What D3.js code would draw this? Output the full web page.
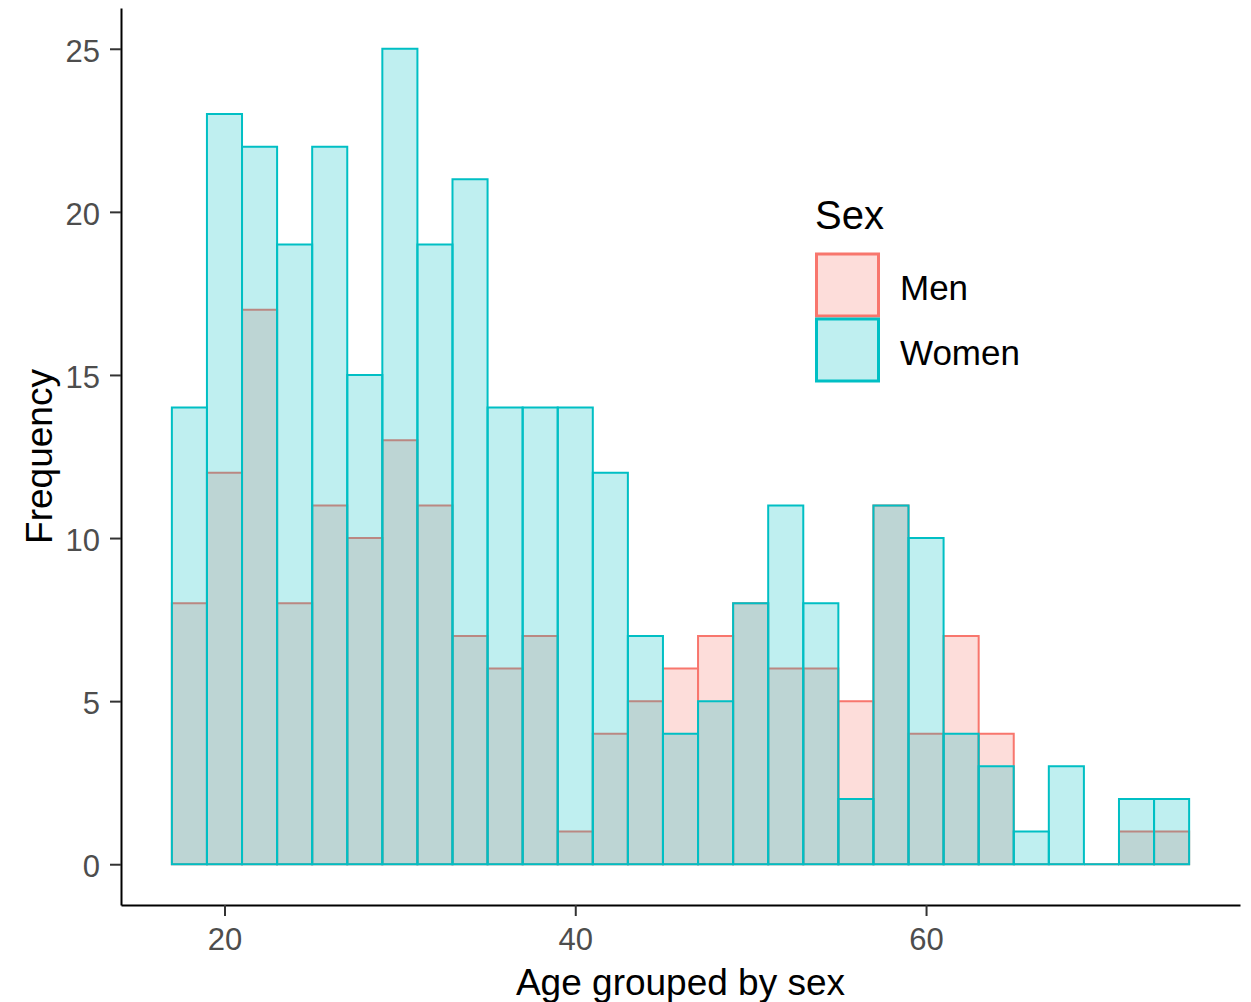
<!DOCTYPE html>
<html>
<head>
<meta charset="utf-8">
<script src="https://cdn.jsdelivr.net/npm/d3@7"></script>
<style>
  html, body { margin: 0; padding: 0; background: #fff; }
  svg { display: block; font-family: "Liberation Sans", Arial, Helvetica, sans-serif; }
</style>
</head>
<body>
<svg id="chart" width="1251" height="1002"></svg>
<script>
// Histogram of age by sex: bins of width 2 years, lower/upper edges
const binEdges = [17, 19, 21, 23, 25, 27, 29, 31, 33, 35, 37, 39, 41, 43, 45,
                  47, 49, 51, 53, 55, 57, 59, 61, 63, 65, 67, 69, 71, 73, 75];
const menCounts   = [8, 12, 17, 8, 11, 10, 13, 11, 7, 6, 7, 1, 4, 5, 6,
                     7, 8, 6, 6, 5, 11, 4, 7, 4, 0, 0, 0, 1, 1];
const womenCounts = [14, 23, 22, 19, 22, 15, 25, 19, 21, 14, 14, 14, 12, 7, 4,
                     5, 8, 11, 8, 2, 11, 10, 4, 3, 1, 3, 0, 2, 2];
const seriesNames = ["Men", "Women"];
const xTicks = [20, 40, 60];
const yTicks = [0, 5, 10, 15, 20, 25];

const lineColors = { Men: "#F8766D", Women: "#00BFC4" };
const fillColors = { Men: "rgba(248,118,109,0.25)", Women: "rgba(0,191,196,0.25)" };

const svg = d3.select("#chart");

const plot = { left: 121, right: 1240, top: 8, bottom: 905 };

const x = d3.scaleLinear().domain([14.1, 77.9]).range([plot.left, plot.right]);
const y = d3.scaleLinear().domain([-1.25, 26.25]).range([plot.bottom, plot.top]);

const seriesData = {
  Men: menCounts.map((c, i) => ({ x0: binEdges[i], x1: binEdges[i + 1], count: c })),
  Women: womenCounts.map((c, i) => ({ x0: binEdges[i], x1: binEdges[i + 1], count: c }))
};

// each bar as a closed path so that empty bins still show their outline on the baseline
function barPath(d) {
  const p = d3.path();
  p.rect(x(d.x0), y(d.count), x(d.x1) - x(d.x0), y(0) - y(d.count));
  return p.toString();
}

// bars: men first, women overlaid on top
seriesNames.forEach(name => {
  svg.append("g")
    .attr("class", "bars-" + name)
    .selectAll("path")
    .data(seriesData[name])
    .join("path")
    .attr("d", barPath)
    .attr("fill", fillColors[name])
    .attr("stroke", lineColors[name])
    .attr("stroke-width", 2);
});

// axes
const xAxis = svg.append("g")
  .attr("transform", `translate(0,${plot.bottom})`)
  .call(d3.axisBottom(x).tickValues(xTicks).tickSize(11).tickSizeOuter(0).tickPadding(12));
const yAxis = svg.append("g")
  .attr("transform", `translate(${plot.left},0)`)
  .call(d3.axisLeft(y).tickValues(yTicks).tickSize(11).tickSizeOuter(0).tickPadding(10));

[xAxis, yAxis].forEach(g => {
  g.select(".domain").attr("stroke", "#000").attr("stroke-width", 2);
  g.selectAll(".tick line").attr("stroke", "#333").attr("stroke-width", 2);
  g.selectAll(".tick text")
    .attr("fill", "#4D4D4D")
    .style("font-size", "31px")
    .style("font-family", "'Liberation Sans', Arial, sans-serif");
});
yAxis.selectAll(".tick text").attr("dy", "0.4em");

// axis titles
svg.append("text")
  .attr("x", (plot.left + plot.right) / 2)
  .attr("y", 995)
  .attr("text-anchor", "middle")
  .attr("fill", "#000")
  .style("font-size", "37px")
  .text("Age grouped by sex");

svg.append("text")
  .attr("transform", `translate(52,${(plot.top + plot.bottom) / 2}) rotate(-90)`)
  .attr("text-anchor", "middle")
  .attr("fill", "#000")
  .style("font-size", "37px")
  .text("Frequency");

// legend
const legend = svg.append("g").attr("transform", "translate(815,0)");
legend.append("text")
  .attr("x", 0)
  .attr("y", 229)
  .attr("fill", "#000")
  .style("font-size", "40px")
  .text("Sex");

const keySize = 62;
seriesNames.forEach((name, i) => {
  const top = 254 + i * 65;
  legend.append("rect")
    .attr("x", 1.5)
    .attr("y", top)
    .attr("width", keySize)
    .attr("height", keySize)
    .attr("fill", fillColors[name])
    .attr("stroke", lineColors[name])
    .attr("stroke-width", 3);
  legend.append("text")
    .attr("x", 85)
    .attr("y", top + keySize / 2 + 15)
    .attr("fill", "#000")
    .style("font-size", "35px")
    .text(name);
});
</script>
</body>
</html>
